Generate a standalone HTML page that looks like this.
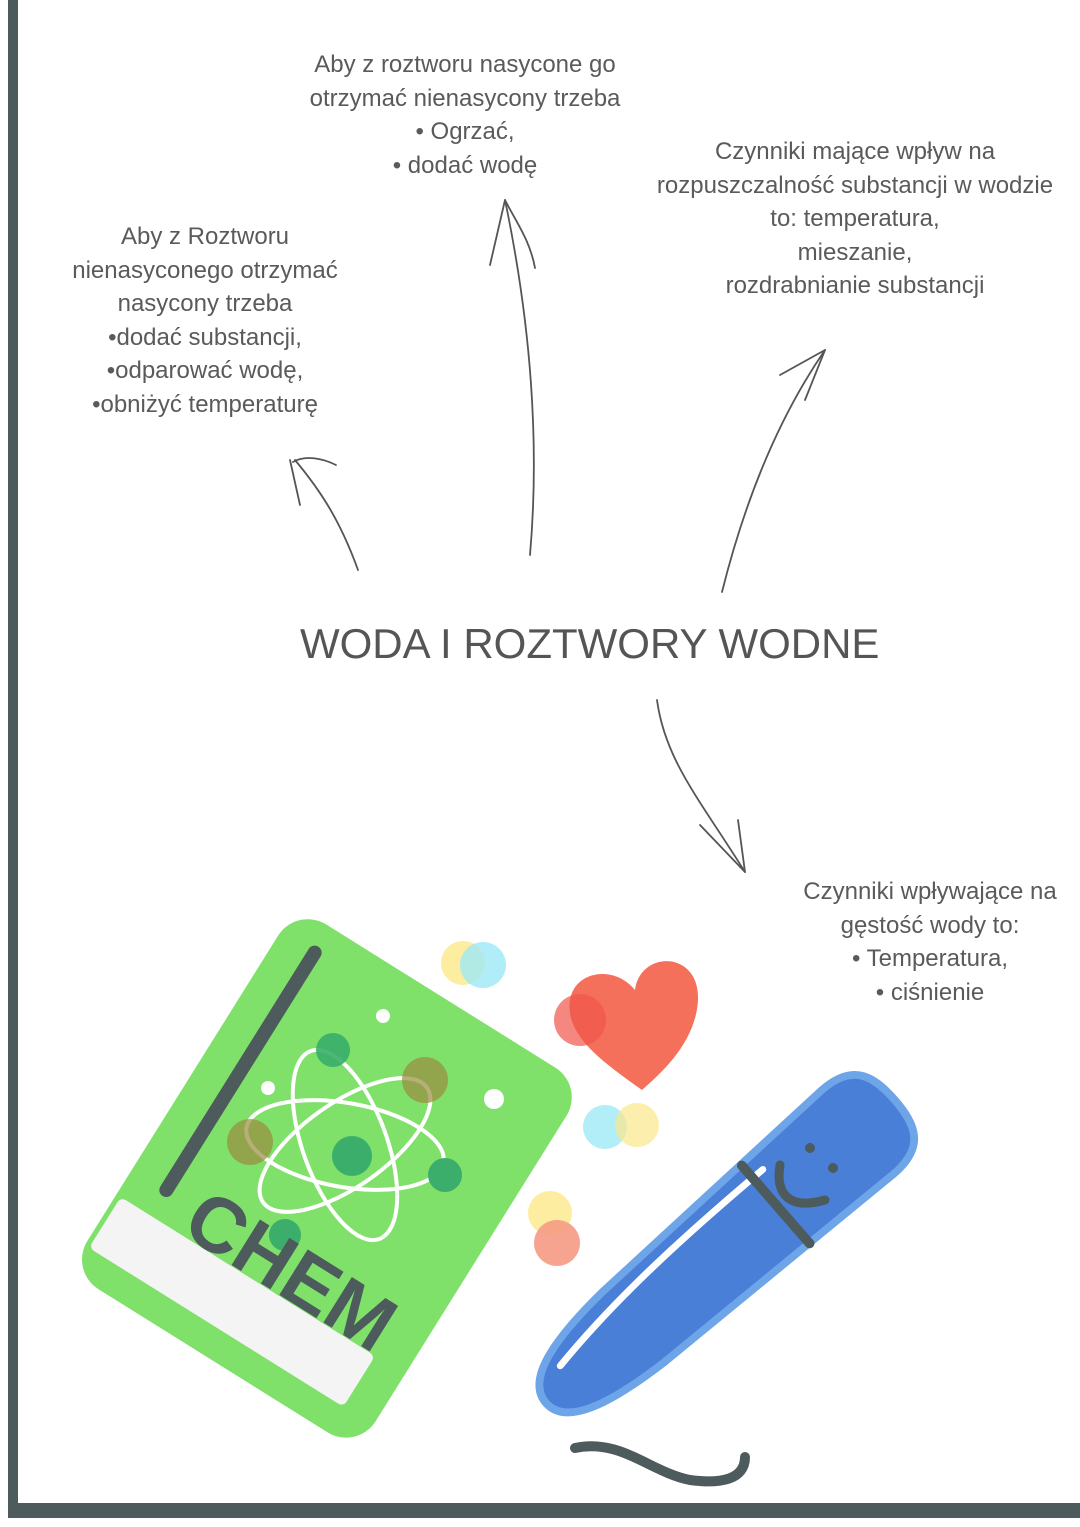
<!DOCTYPE html>
<html><head><meta charset="utf-8"><style>
html,body{margin:0;padding:0;background:#fff;}
body{width:1080px;height:1527px;position:relative;overflow:hidden;font-family:"Liberation Sans",sans-serif;color:#555;}
.t{position:absolute;text-align:center;font-size:24px;line-height:33.5px;color:#5a5a5a;}
</style></head><body>
<div style="position:absolute;left:8px;top:0;width:10px;height:1518px;background:#4d5b5c"></div>
<div style="position:absolute;left:8px;top:1503px;width:1072px;height:15px;background:#4d5b5c"></div>

<div class="t" style="left:250px;top:48px;width:430px">Aby z roztworu nasycone go<br>otrzymać nienasycony trzeba<br>• Ogrzać,<br>• dodać wodę</div>
<div class="t" style="left:40px;top:220px;width:330px">Aby z Roztworu<br>nienasyconego otrzymać<br>nasycony trzeba<br>•dodać substancji,<br>•odparować wodę,<br>•obniżyć temperaturę</div>
<div class="t" style="left:630px;top:135px;width:450px">Czynniki mające wpływ na<br>rozpuszczalność substancji w wodzie<br>to: temperatura,<br>mieszanie,<br>rozdrabnianie substancji</div>
<div class="t" style="left:780px;top:875px;width:300px">Czynniki wpływające na<br>gęstość wody to:<br>• Temperatura,<br>• ciśnienie</div>
<div style="position:absolute;left:300px;top:620px;font-size:42px;color:#555;white-space:nowrap">WODA I ROZTWORY WODNE</div>

<svg width="1080" height="1527" style="position:absolute;left:0;top:0" fill="none" stroke="#555" stroke-width="1.8" stroke-linecap="round">
<path d="M358 570 C340 520 320 490 295 460"/>
<path d="M290 460 L300 505 M293 462 C305 455 322 458 336 465"/>
<path d="M530 555 C540 440 530 320 505 200"/>
<path d="M505 200 L490 265 M505 200 C515 220 530 240 535 268"/>
<path d="M722 592 C740 520 770 430 825 350"/>
<path d="M825 350 L780 375 M825 350 L805 400"/>
<path d="M657 700 C665 760 700 800 745 872"/>
<path d="M745 872 L700 825 M745 872 L738 820"/>

<!-- book -->
<g transform="rotate(32 320 1180)">
<rect x="155" y="960" width="340" height="430" rx="35" fill="#7fe06a" stroke="none"/>
<rect x="160" y="1300" width="300" height="60" rx="6" fill="#f4f4f4" stroke="none"/>
<line x1="195" y1="990" x2="195" y2="1270" stroke="#4d5b5c" stroke-width="14"/>
</g>
<g stroke="#fff" stroke-width="4">
<ellipse cx="345" cy="1145" rx="42" ry="100" transform="rotate(-20 345 1145)"/>
<ellipse cx="345" cy="1145" rx="42" ry="100" transform="rotate(55 345 1145)"/>
<ellipse cx="345" cy="1145" rx="42" ry="100" transform="rotate(-80 345 1145)"/>
</g>
<circle cx="352" cy="1156" r="20" fill="#3aae6a" stroke="none"/>
<circle cx="333" cy="1050" r="17" fill="#3aae6a" stroke="none" opacity=".9"/>
<circle cx="425" cy="1080" r="23" fill="#9a8b40" stroke="none" opacity=".7"/>
<circle cx="250" cy="1142" r="23" fill="#9a8b40" stroke="none" opacity=".7"/>
<circle cx="445" cy="1175" r="17" fill="#3aae6a" stroke="none"/>
<circle cx="285" cy="1235" r="16" fill="#3aae6a" stroke="none"/>
<circle cx="383" cy="1016" r="7" fill="#fff" stroke="none"/>
<circle cx="268" cy="1088" r="7" fill="#fff" stroke="none"/>
<circle cx="494" cy="1099" r="10" fill="#fff" stroke="none"/>
<text x="180" y="1290" transform="rotate(32 280 1260)" font-family="Liberation Sans,sans-serif" font-weight="bold" font-size="78" fill="#4d5b5c" stroke="none">CHEM</text>

<!-- bubbles -->
<circle cx="463" cy="963" r="22" fill="#fbe88a" stroke="none" opacity=".8"/>
<circle cx="483" cy="965" r="23" fill="#9ee8f6" stroke="none" opacity=".8"/>
<circle cx="605" cy="1127" r="22" fill="#a8ecf6" stroke="none" opacity=".9"/>
<circle cx="637" cy="1125" r="22" fill="#fbe88a" stroke="none" opacity=".7"/>
<circle cx="550" cy="1213" r="22" fill="#fbe88a" stroke="none" opacity=".8"/>
<circle cx="557" cy="1243" r="23" fill="#f59a84" stroke="none" opacity=".9"/>
<!-- heart -->
<path d="M642 1090 C600 1060 565 1035 570 1000 C575 970 615 965 635 990 C640 950 700 950 698 1000 C696 1040 665 1070 642 1090Z" fill="#f5705a" stroke="none"/>
<circle cx="580" cy="1020" r="26" fill="#f0554a" stroke="none" opacity=".7"/>

<!-- pen -->
<g transform="translate(722 1250) rotate(-41) scale(0.88 0.85) translate(-735 -1250)">
<path d="M470 1250 C470 1215 520 1200 600 1195 L940 1185 C985 1185 995 1210 995 1250 C995 1290 985 1315 940 1315 L600 1305 C520 1300 470 1285 470 1250Z" fill="#4a7fd8" stroke="#6ea4e8" stroke-width="9"/>
<path d="M510 1228 C600 1212 700 1208 830 1210" stroke="#fff" stroke-width="8"/>
<line x1="815" y1="1190" x2="815" y2="1312" stroke="#4d5b5c" stroke-width="11"/>
</g>
<path d="M780 1165 C775 1195 790 1210 825 1200" stroke="#4d5b5c" stroke-width="9"/>
<circle cx="810" cy="1148" r="5" fill="#4d5b5c" stroke="none"/>
<circle cx="833" cy="1168" r="5" fill="#4d5b5c" stroke="none"/>
<path d="M575 1448 C620 1438 650 1472 690 1480 C720 1484 745 1480 745 1457" stroke="#4d5b5c" stroke-width="10"/>
</svg>
</body></html>
